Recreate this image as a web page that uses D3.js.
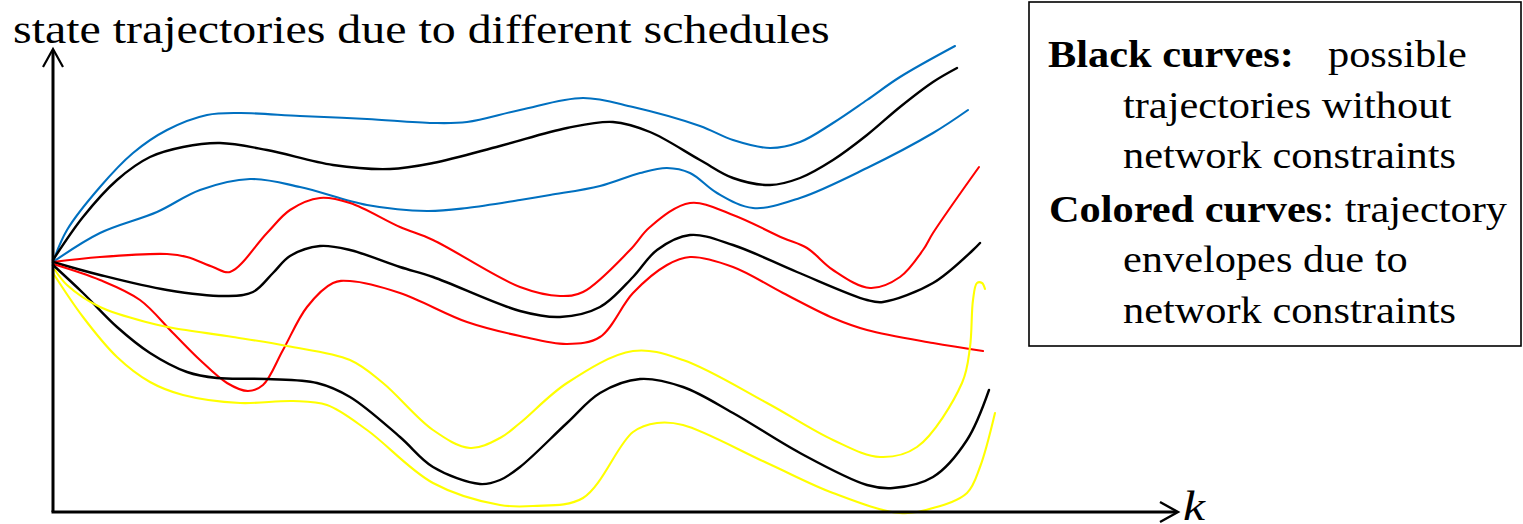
<!DOCTYPE html>
<html>
<head>
<meta charset="utf-8">
<script src="https://cdn.jsdelivr.net/npm/d3@7"></script>
<style>
  html, body { margin: 0; padding: 0; background: #fff; }
  svg { display: block; }
</style>
</head>
<body>
<svg id="chart" width="1523" height="524"></svg>
<script>
// ---- data: [k, state] points (arbitrary units) ----
const blueUpper = [[0,250],[14,282],[47,325],[80,359],[114,382],[154,397],[187,399],[247,396],[314,393],[380,389],[414,390],[467,402],[530,414],[580,405],[647,386],[680,372],[717,364],[747,370],[780,389],[814,412],[847,435],[902,466]];
const blackUpper = [[0,252],[30,295],[64,332],[97,355],[130,365],[167,369],[214,362],[280,347],[337,343],[380,349],[447,366],[514,384],[560,390],[597,380],[647,352],[680,334],[717,327],[747,334],[780,352],[814,377],[847,405],[880,430],[904,444]];
const blueLower = [[0,250],[47,279],[104,300],[147,322],[197,333],[247,325],[314,307],[374,301],[414,304],[467,312],[497,317],[547,326],[587,339],[614,344],[637,339],[664,319],[700,304],[747,314],[814,344],[880,379],[915,402]];
const redUpper = [[0,250],[47,255],[114,258],[134,255],[160,245],[177,240],[214,279],[237,302],[267,314],[297,309],[347,285],[380,272],[467,225],[507,216],[530,220],[577,262],[597,285],[637,309],[680,297],[730,274],[754,264],[780,242],[817,224],[847,235],[870,262],[880,279],[926,345]];
const blackMiddle = [[0,250],[47,237],[114,222],[174,216],[200,220],[220,239],[237,256],[267,266],[297,262],[347,245],[380,235],[467,201],[507,195],[547,205],[580,235],[604,262],[637,277],[680,267],[744,240],[814,212],[830,210],[880,229],[920,262],[927,269]];
const redLower = [[0,248],[47,232],[87,212],[120,179],[147,152],[174,129],[195,121],[210,127],[230,162],[254,205],[280,229],[297,231],[347,219],[414,190],[467,176],[514,168],[547,175],[580,219],[614,247],[637,255],[680,245],[730,219],[780,194],[814,182],[880,169],[930,161]];
const blackLower = [[0,247],[30,219],[64,185],[97,159],[134,140],[164,134],[214,133],[264,129],[297,115],[347,75],[380,45],[427,28],[447,32],[467,45],[514,89],[547,119],[587,133],[630,125],[680,99],[747,59],[814,27],[840,24],[880,35],[914,72],[936,122]];
const yellowUpper = [[2,242],[14,227],[47,205],[97,189],[120,184],[180,175],[234,166],[297,152],[330,129],[380,82],[417,64],[447,74],[467,89],[514,129],[580,161],[630,152],[714,109],[780,72],[827,55],[864,65],[909,129],[917,165],[920,212],[924,229],[929,229],[932,223]];
const yellowLower = [[0,239],[30,195],[64,155],[97,130],[130,117],[187,109],[240,111],[274,107],[314,82],[380,29],[447,7],[480,6],[530,14],[580,80],[604,89],[630,87],[714,49],[780,19],[847,-1],[880,4],[914,19],[927,45],[942,99]];

const curveNames = ["blueUpper","blackUpper","blueLower","redUpper","blackMiddle","redLower","blackLower","yellowUpper","yellowLower"];
const curveData = [blueUpper, blackUpper, blueLower, redUpper, blackMiddle, redLower, blackLower, yellowUpper, yellowLower];
const curveColors = ["#0070C0","#000000","#0070C0","#FF0000","#000000","#FF0000","#000000","#FFFF00","#FFFF00"];

const titleText = "state trajectories due to different schedules";
const xAxisLabel = "k";
const legendLines = [
  [{t:"Black curves:", b:true}, {t:"possible", b:false}],
  [{t:"trajectories without", b:false}],
  [{t:"network constraints", b:false}],
  [{t:"Colored curves", b:true}, {t:": trajectory", b:false}],
  [{t:"envelopes due to", b:false}],
  [{t:"network constraints", b:false}]
];

const FONT = "'Liberation Serif', 'Times New Roman', Tinos, 'Nimbus Roman', serif";

// ---- layout ----
const svg = d3.select("#chart");
const x = d3.scaleLinear().domain([0, 1125]).range([53, 1178]);
const y = d3.scaleLinear().domain([0, 463]).range([512, 49]);

// curves
const line = d3.line().x(d => x(d[0])).y(d => y(d[1])).curve(d3.curveCatmullRom.alpha(0.5));
svg.append("g").selectAll("path").data(curveData).join("path")
  .attr("d", d => line(d))
  .attr("fill", "none")
  .attr("stroke", (d, i) => curveColors[i])
  .attr("stroke-width", (d, i) => curveColors[i] === "#000000" ? 2.4 : 2.1)
  .attr("stroke-linecap", "round")
  .attr("stroke-linejoin", "round");

// axes
const axes = svg.append("g").attr("stroke", "#000").attr("fill", "none").attr("stroke-width", 3);
axes.append("line").attr("x1", x(0)).attr("y1", y(0)).attr("x2", x(0)).attr("y2", y(463) + 1);
axes.append("polyline").attr("stroke-width", 2.2)
  .attr("points", `${x(0)-10},${y(463)+18} ${x(0)},${y(463)} ${x(0)+10},${y(463)+18}`);
axes.append("line").attr("x1", x(0) - 1.5).attr("y1", y(0)).attr("x2", x(1125) - 1).attr("y2", y(0));
axes.append("polyline").attr("stroke-width", 2.4)
  .attr("points", `${x(1125)-18},${y(0)-10} ${x(1125)},${y(0)} ${x(1125)-18},${y(0)+10}`);

// stretched text helper: places text at (px,py) and scales horizontally to a target width
function stretchedText(px, py, size, targetWidth) {
  const g = svg.append("g");
  const t = g.append("text").attr("x", 0).attr("y", 0)
    .attr("font-family", FONT).attr("font-size", size);
  return { g, t, fit: () => {
    const w = t.node().getComputedTextLength();
    const sx = targetWidth ? targetWidth / w : 1;
    g.attr("transform", `translate(${px},${py}) scale(${sx},1)`);
    return sx;
  }};
}

// x-axis label
const kl = stretchedText(1183, 520, 43, 22);
kl.t.attr("font-style", "italic").text(xAxisLabel);
kl.fit();

// title
const ttl = stretchedText(13, 43, 40, 817);
ttl.t.text(titleText);
ttl.fit();

// legend box
svg.append("rect").attr("x", 1029).attr("y", 2).attr("width", 492).attr("height", 344)
  .attr("fill", "#fff").attr("stroke", "#000").attr("stroke-width", 1.6);

const legX = [1048, 1123, 1123, 1049, 1123, 1123];
const legY = [67, 118, 168, 222, 272, 323];
const legSize = 37;
// measure stretch from the widest line ("Colored curves: trajectory" ≈ 458 px wide in the reference)
const probe = svg.append("text").attr("font-family", FONT).attr("font-size", legSize);
legendLines[3].forEach(p => probe.append("tspan").attr("font-weight", p.b ? "bold" : "normal").text(p.t));
const legSx = 458 / probe.node().getComputedTextLength();
probe.remove();

legendLines.forEach((parts, i) => {
  const g = svg.append("g").attr("transform", `translate(${legX[i]},${legY[i]}) scale(${legSx},1)`);
  const t = g.append("text").attr("x", 0).attr("y", 0)
    .attr("font-family", FONT).attr("font-size", legSize);
  parts.forEach((p, j) => {
    const ts = t.append("tspan").attr("font-weight", p.b ? "bold" : "normal").text(p.t);
    if (i === 0 && j === 1) ts.attr("x", (1328 - legX[0]) / legSx);
  });
});
</script>
</body>
</html>
